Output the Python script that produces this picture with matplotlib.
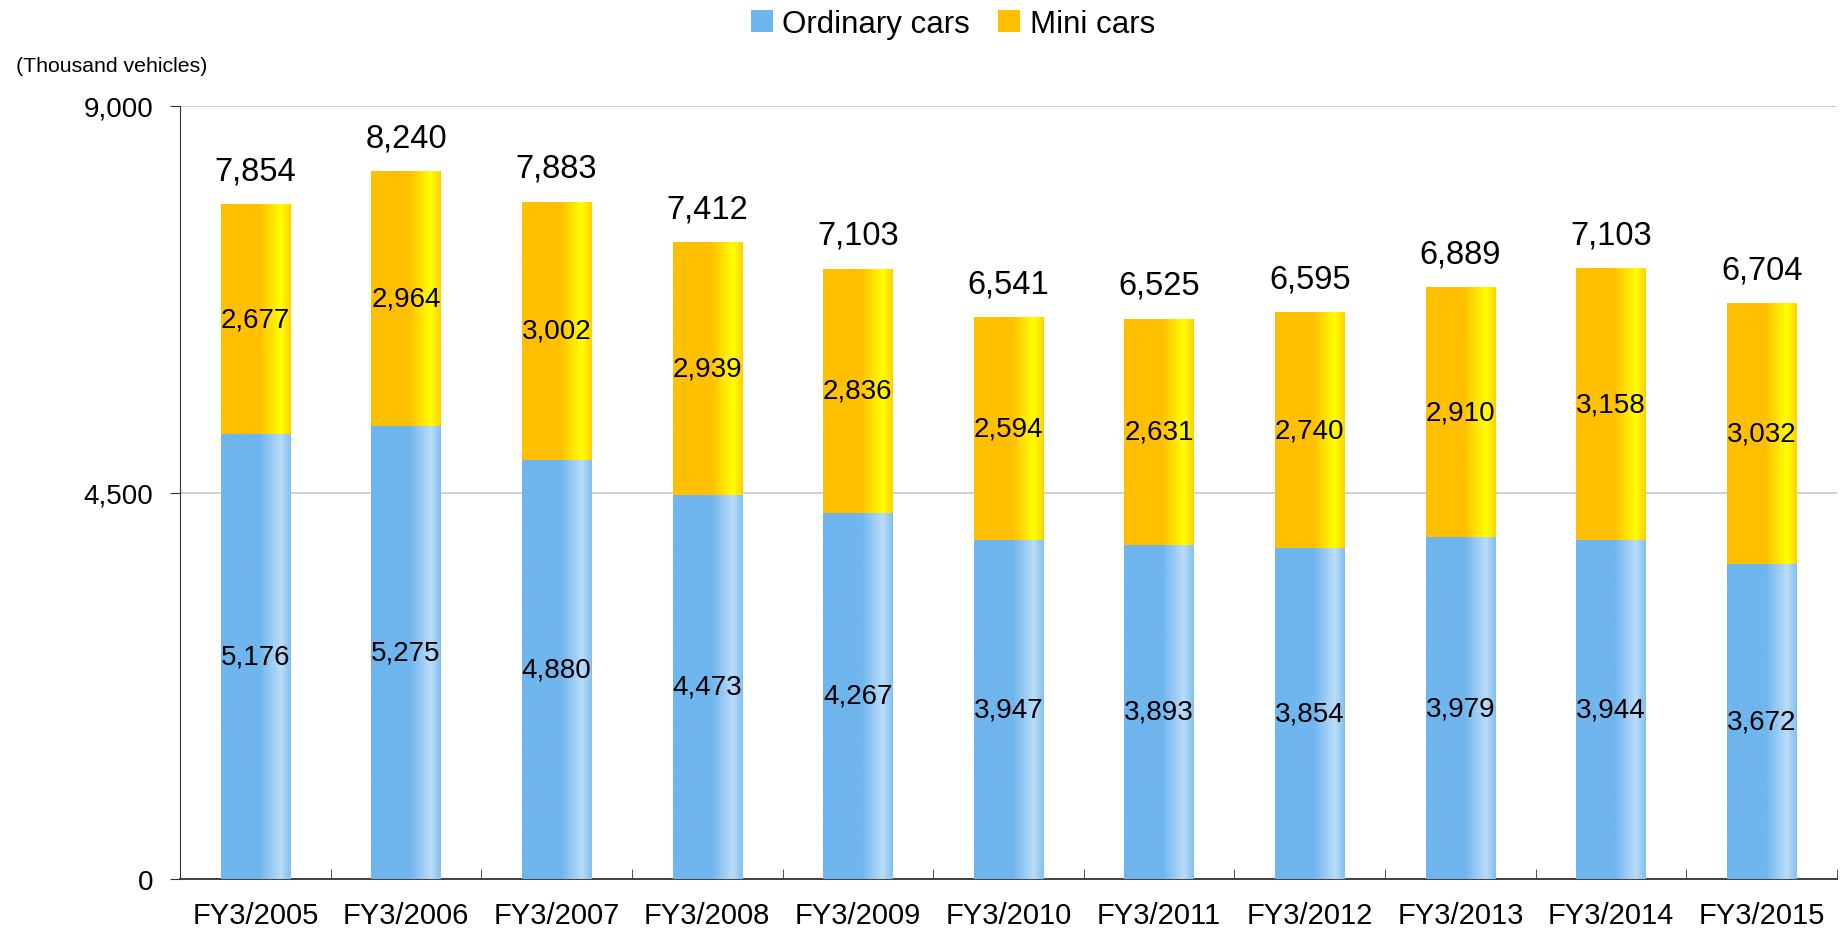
import numpy as np
import matplotlib
matplotlib.use("Agg")
import matplotlib.pyplot as plt
from matplotlib.colors import LinearSegmentedColormap
from matplotlib.patches import Patch

plt.rcParams['font.family'] = ['Liberation Sans', 'DejaVu Sans']

years = ['FY3/2005', 'FY3/2006', 'FY3/2007', 'FY3/2008', 'FY3/2009', 'FY3/2010',
         'FY3/2011', 'FY3/2012', 'FY3/2013', 'FY3/2014', 'FY3/2015']
ordinary = [5176, 5275, 4880, 4473, 4267, 3947, 3893, 3854, 3979, 3944, 3672]
mini = [2677, 2964, 3002, 2939, 2836, 2594, 2631, 2740, 2910, 3158, 3032]
totals = [7854, 8240, 7883, 7412, 7103, 6541, 6525, 6595, 6889, 7103, 6704]

blue_cmap = LinearSegmentedColormap.from_list(
    'blue', [(0, '#6fb5ee'), (0.55, '#6fb5ee'), (0.86, '#badcf8'), (1, '#80bff0')])
gold_cmap = LinearSegmentedColormap.from_list(
    'gold', [(0, '#ffc000'), (0.55, '#ffc000'), (0.86, '#ffff00'), (1, '#ffd000')])

fig = plt.figure(figsize=(18.45, 9.37), dpi=100)
ax = fig.add_axes([180 / 1845, 1 - 880 / 937, 1657 / 1845, 773 / 937])

x = np.arange(len(years))
width = 0.46
b1 = ax.bar(x, ordinary, width, color='#6fb5ee', zorder=2)
b2 = ax.bar(x, mini, width, bottom=ordinary, color='#ffc000', zorder=2)

grad = np.linspace(0, 1, 256).reshape(1, -1)
for bars, cmap in ((b1, blue_cmap), (b2, gold_cmap)):
    for p in bars:
        x0, y0 = p.get_x(), p.get_y()
        ax.imshow(grad, cmap=cmap, aspect='auto', zorder=3,
                  extent=(x0, x0 + p.get_width(), y0, y0 + p.get_height()))

for i in range(len(years)):
    ax.text(x[i], ordinary[i] / 2, f'{ordinary[i]:,}', ha='center', va='center',
            fontsize=20, zorder=4)
    ax.text(x[i], ordinary[i] + mini[i] / 2, f'{mini[i]:,}', ha='center', va='center',
            fontsize=20, zorder=4)
    ax.annotate(f'{totals[i]:,}', (x[i], ordinary[i] + mini[i]), xytext=(0, 13),
                textcoords='offset points', ha='center', va='bottom', fontsize=23.5)

ax.set_xlim(-0.5, len(years) - 0.5)
ax.set_ylim(0, 9000)
ax.set_yticks([0, 4500, 9000])
ax.set_yticklabels(['0', '4,500', '9,000'], fontsize=20)
ax.set_xticks(x)
ax.set_xticklabels(years, fontsize=21)
ax.set_xticks(np.arange(-0.5, len(years)), minor=True)
ax.tick_params(axis='x', which='major', length=0, pad=16)
ax.tick_params(axis='x', which='minor', direction='in', length=7, color='#333333')
ax.tick_params(axis='y', direction='out', length=7, color='#333333', pad=12)
ax.yaxis.grid(True, color='#c8c8c8', linewidth=1.2, zorder=0)
ax.set_axisbelow(True)
for s in ('top', 'right'):
    ax.spines[s].set_visible(False)
ax.spines['left'].set_color('#333333')
ax.spines['bottom'].set_color('#333333')
ax.spines['bottom'].set_linewidth(1.3)

fig.text(16 / 1845, 1 - 67 / 937, '(Thousand vehicles)', fontsize=15.3, va='center')

handles = [Patch(facecolor='#6fb5ee'), Patch(facecolor='#ffc000')]
fig.legend(handles, ['Ordinary cars', 'Mini cars'], loc='center',
           bbox_to_anchor=(953 / 1845, 1 - 25 / 937), ncol=2, frameon=False,
           fontsize=22.5, handlelength=0.7, handleheight=0.7, handletextpad=0.3,
           columnspacing=0.9)

fig.savefig('out.png', dpi=100)
